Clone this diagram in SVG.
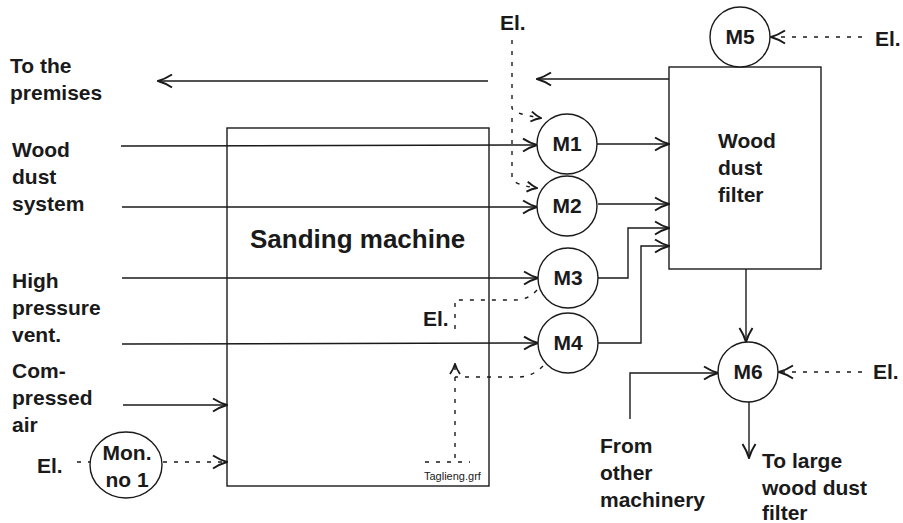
<svg xmlns="http://www.w3.org/2000/svg" width="903" height="523" viewBox="0 0 903 523">
<defs>
<style>
.ln{fill:none;stroke:#1a1a1a;stroke-width:1.4}
.dl{fill:none;stroke:#1a1a1a;stroke-width:1.4;stroke-dasharray:4 7}
.bx{fill:#fff;stroke:#1a1a1a;stroke-width:1.4}
.t{font-family:"Liberation Sans",Arial,sans-serif;font-weight:bold;font-size:21px;fill:#1a1a1a}
.tm{font-family:"Liberation Sans",Arial,sans-serif;font-weight:bold;font-size:21px;fill:#1a1a1a;text-anchor:middle}
.ts{font-family:"Liberation Sans",Arial,sans-serif;font-size:11px;fill:#1a1a1a}
</style>
<marker id="ar" viewBox="0 0 16 16" refX="15" refY="8" markerWidth="16" markerHeight="16" markerUnits="userSpaceOnUse" orient="auto">
<path d="M1,1.5 Q8,6 15,8 Q8,10 1,14.5" fill="none" stroke="#1a1a1a" stroke-width="2"/>
</marker>
<marker id="ars" viewBox="0 0 12 12" refX="11" refY="6" markerWidth="12" markerHeight="12" markerUnits="userSpaceOnUse" orient="auto">
<path d="M1,1 Q6,4.5 11,6 Q6,7.5 1,11" fill="none" stroke="#1a1a1a" stroke-width="1.8"/>
</marker>
</defs>
<rect width="903" height="523" fill="#fff"/>

<g id="sanding-machine">
<rect class="bx" x="227" y="128" width="262" height="358" fill="none"/>
<text class="t" x="250" y="248" style="font-size:26px">Sanding machine</text>
<text class="ts" x="424" y="480">Taglieng.grf</text>
</g>

<g id="wood-dust-filter">
<rect class="bx" x="669" y="67" width="152" height="202"/>
<text class="t" x="718" y="148">Wood</text>
<text class="t" x="718" y="175">dust</text>
<text class="t" x="718" y="202">filter</text>
</g>

<g id="labels">
<text class="t" x="10" y="73">To the</text>
<text class="t" x="10" y="100">premises</text>
<text class="t" x="12" y="157">Wood</text>
<text class="t" x="12" y="184">dust</text>
<text class="t" x="12" y="211">system</text>
<text class="t" x="12" y="288">High</text>
<text class="t" x="12" y="315">pressure</text>
<text class="t" x="12" y="342">vent.</text>
<text class="t" x="12" y="378">Com-</text>
<text class="t" x="12" y="405">pressed</text>
<text class="t" x="12" y="432">air</text>
<text class="t" x="37" y="473">El.</text>
<text class="t" x="500" y="30">El.</text>
<text class="t" x="875" y="46">El.</text>
<text class="t" x="423" y="326">El.</text>
<text class="t" x="873" y="379">El.</text>
<text class="t" x="600" y="453">From</text>
<text class="t" x="600" y="480">other</text>
<text class="t" x="600" y="507">machinery</text>
<text class="t" x="762" y="468">To large</text>
<text class="t" x="762" y="495">wood dust</text>
<text class="t" x="762" y="520">filter</text>
</g>

<g id="connectors">
<path class="ln" d="M488,81 L158,81" marker-end="url(#ar)"/>
<path class="ln" d="M669,79 L537,79" marker-end="url(#ar)"/>
<path class="ln" d="M121,146 L537,145" marker-end="url(#ar)"/>
<path class="ln" d="M122,207 L537,207" marker-end="url(#ar)"/>
<path class="ln" d="M122,278 L538,278" marker-end="url(#ar)"/>
<path class="ln" d="M122,344 L538,343" marker-end="url(#ar)"/>
<path class="ln" d="M123,405 L227,405" marker-end="url(#ar)"/>
<path class="ln" d="M597,144 L669,144" marker-end="url(#ar)"/>
<path class="ln" d="M598,204 L669,204" marker-end="url(#ar)"/>
<path class="ln" d="M598,278 L628,278 L628,228 L669,228" marker-end="url(#ar)"/>
<path class="ln" d="M598,343 L641,343 L641,246 L669,246" marker-end="url(#ar)"/>
<path class="ln" d="M746,269 L746,342" marker-end="url(#ar)"/>
<path class="ln" d="M749,402 L749,458" marker-end="url(#ar)"/>
<path class="ln" d="M630,419 L630,373 L718,373" marker-end="url(#ar)"/>
<path class="dl" d="M862,37 L771,37" marker-end="url(#ar)"/>
<path class="dl" d="M862,372 L779,372" marker-end="url(#ar)"/>
<path class="dl" d="M512,40 L512,108 Q514,114 541,118" marker-end="url(#ars)"/>
<path class="dl" d="M512,118 L512,178 Q514,185 537,188" marker-end="url(#ars)"/>
<path class="dl" d="M92,462 L74,462"/>
<path class="dl" d="M163,462 L227,462" marker-end="url(#ar)"/>
<path class="dl" d="M537,290 Q528,300 515,300 L455,300 L455,332"/>
<path class="dl" d="M543,366 Q532,377 518,377 L455,377"/>
<path class="dl" d="M425,462 L470,462"/>
<path class="dl" d="M455,458 L455,364" marker-end="url(#ars)"/>
</g>

<g id="M1"><circle class="bx" cx="567" cy="144" r="30"/><text class="tm" x="567" y="151">M1</text></g>
<g id="M2"><circle class="bx" cx="567" cy="206" r="30"/><text class="tm" x="567" y="213">M2</text></g>
<g id="M3"><circle class="bx" cx="568" cy="278" r="30"/><text class="tm" x="568" y="285">M3</text></g>
<g id="M4"><circle class="bx" cx="568" cy="343" r="30"/><text class="tm" x="568" y="350">M4</text></g>
<g id="M5"><circle class="bx" cx="740" cy="37" r="30"/><text class="tm" x="740" y="44">M5</text></g>
<g id="M6"><circle class="bx" cx="748" cy="372" r="30"/><text class="tm" x="748" y="379">M6</text></g>
<g id="Mon1"><ellipse class="bx" cx="126" cy="465" rx="36" ry="33"/><text class="tm" x="127" y="460">Mon.</text><text class="tm" x="127" y="487">no 1</text></g>
</svg>
